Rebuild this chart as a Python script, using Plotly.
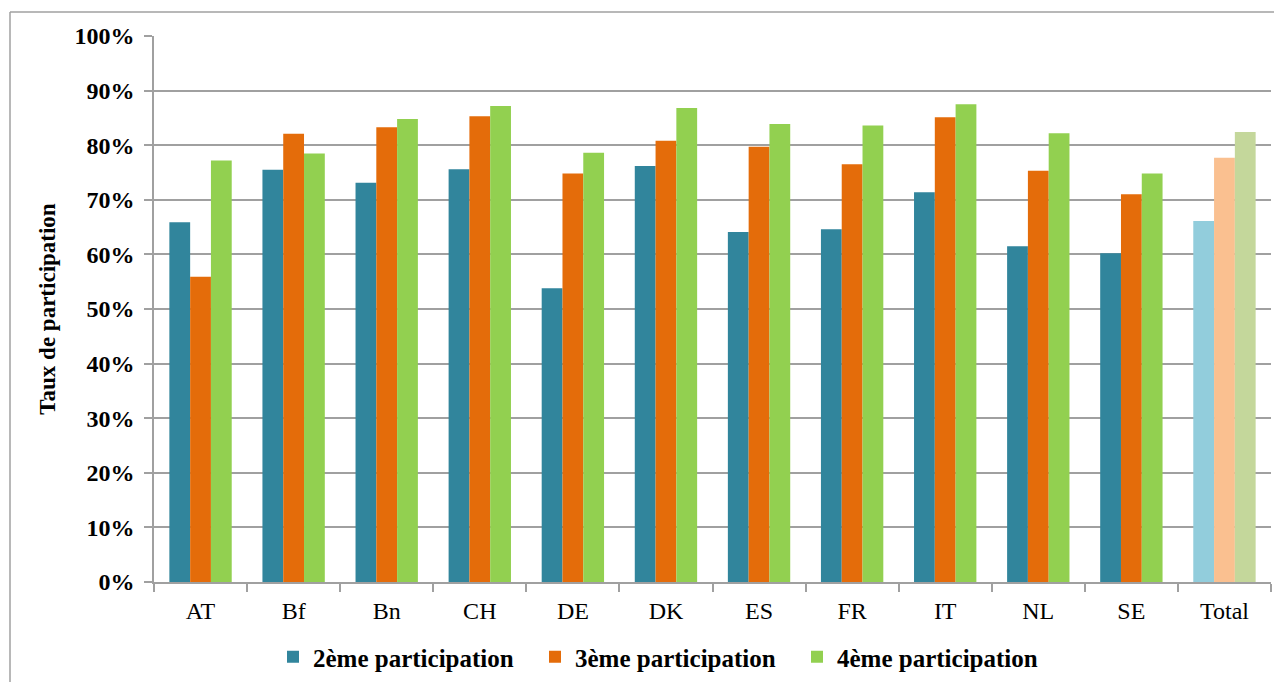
import plotly.graph_objects as go

categories = ["AT", "Bf", "Bn", "CH", "DE", "DK", "ES", "FR", "IT", "NL", "SE", "Total"]
part2 = [65.9, 75.5, 73.1, 75.6, 53.8, 76.2, 64.1, 64.6, 71.4, 61.5, 60.2, 66.1]
part3 = [55.9, 82.1, 83.3, 85.3, 74.8, 80.8, 79.7, 76.5, 85.1, 75.3, 71.0, 77.7]
part4 = [77.2, 78.5, 84.8, 87.2, 78.6, 86.8, 83.9, 83.6, 87.5, 82.2, 74.8, 82.4]
series_names = ["2ème participation", "3ème participation", "4ème participation"]
y_ticks = [0, 10, 20, 30, 40, 50, 60, 70, 80, 90, 100]

main_colors = ["#31859C", "#E46C0A", "#92D050"]
total_colors = ["#92CDDC", "#FAC090", "#C4D79B"]

FONT = "Liberation Serif, Times New Roman, serif"

fig = go.Figure()
for name, vals, c, tc in zip(series_names, [part2, part3, part4], main_colors, total_colors):
    colors = [tc if cat == "Total" else c for cat in categories]
    fig.add_trace(go.Bar(
        x=categories, y=vals, name=name,
        marker=dict(color=colors, line=dict(width=0)),
    ))

OFF = 8  # page body margin
W, H = 1282 - OFF, 682 - OFF
L, R, T, B = 154, 1271, 36, 582  # screen coords of plot area
PW, PH = R - L, B - T
px = lambda x: (x - L) / PW
py = lambda y: (B - y) / PH

fig.update_layout(
    width=W, height=H,
    margin=dict(l=L - OFF, r=(W + OFF) - R, t=T - OFF, b=(H + OFF) - B, autoexpand=False),
    paper_bgcolor="white", plot_bgcolor="white",
    barmode="group", bargap=0.33, bargroupgap=0,
    font=dict(family=FONT, color="black", size=24),
    showlegend=True,
    legend=dict(
        orientation="h", x=px(273), xanchor="left", y=py(657), yanchor="middle",
        font=dict(family=FONT, size=25, color="black", weight="bold"),
        entrywidth=217, entrywidthmode="pixels",
        bgcolor="rgba(0,0,0,0)",
    ),
    xaxis=dict(
        automargin=False,
        showline=True, linecolor="#A0A0A0", linewidth=1.5,
        ticks="outside", tickson="boundaries", ticklen=8, tickcolor="#A0A0A0", tickwidth=1.5,
        tickfont=dict(family=FONT, size=24, color="black"),
        ticklabelstandoff=6,
        showgrid=False,
    ),
    yaxis=dict(
        automargin=False,
        range=[0, 100], tickvals=y_ticks, ticktext=[f"{v}%" for v in y_ticks],
        showline=True, linecolor="#A0A0A0", linewidth=1.5,
        ticks="outside", ticklen=8, tickcolor="#A0A0A0", tickwidth=1.5,
        ticklabelstandoff=5,
        showgrid=True, gridcolor="#A0A0A0", gridwidth=1.5,
        tickfont=dict(family=FONT, size=24, color="black", weight="bold"),
        title=dict(text="Taux de participation", font=dict(family=FONT, size=23, color="black", weight="bold"), standoff=12),
        zeroline=False,
    ),
    shapes=[
        dict(type="line", xref="paper", yref="paper", x0=px(10), x1=px(10), y0=py(12), y1=py(700),
             line=dict(color="#A0A0A0", width=1.5)),
        dict(type="line", xref="paper", yref="paper", x0=px(10), x1=px(1280), y0=py(12), y1=py(12),
             line=dict(color="#A0A0A0", width=1.5)),
        dict(type="line", xref="paper", yref="paper", x0=px(1280), x1=px(1280), y0=py(12), y1=py(700),
             line=dict(color="#A0A0A0", width=1.5)),
    ],
)

fig.write_html("out.html")
